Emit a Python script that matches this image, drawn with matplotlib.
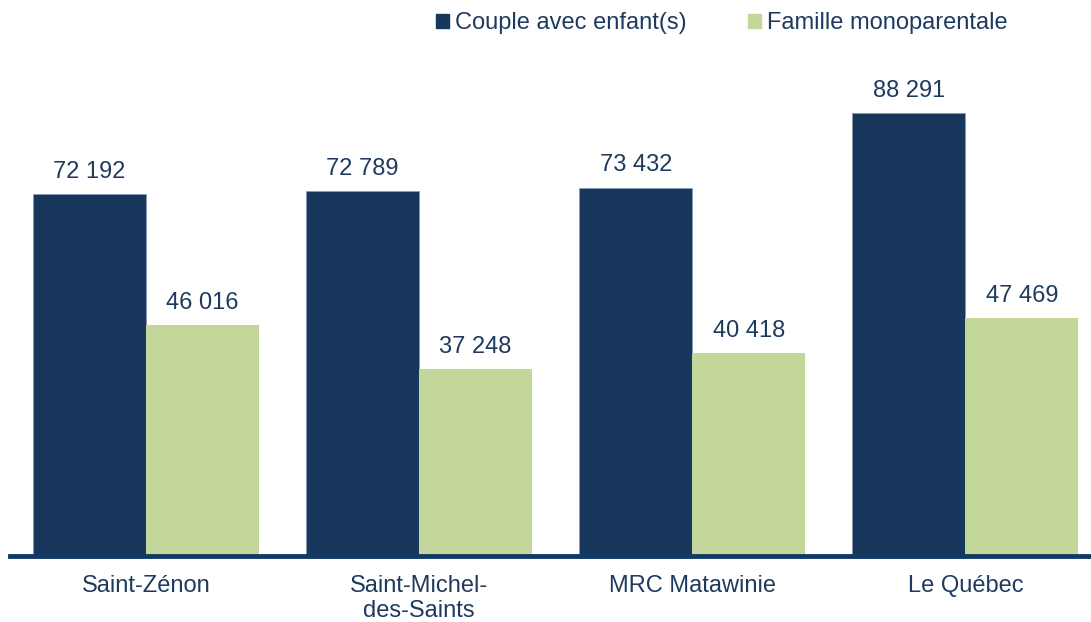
import numpy as np
import matplotlib.pyplot as plt
from matplotlib.patches import Patch

plt.rcParams['font.family'] = ['Liberation Sans', 'DejaVu Sans']

# Data
categories = ["Saint-Zénon", "Saint-Michel-\ndes-Saints", "MRC Matawinie", "Le Québec"]
couple = [72192, 72789, 73432, 88291]
monoparentale = [46016, 37248, 40418, 47469]
series_names = ["Couple avec enfant(s)", "Famille monoparentale"]

dark = "#18375d"
light = "#c4d79b"
text_col = "#1f3a5f"

fig = plt.figure(figsize=(10.91, 6.22), dpi=100)
ax = fig.add_axes([10 / 1091, 66 / 622, 1081 / 1091, 501.8 / 622])

x = np.arange(len(categories))
w = 0.414
b1 = ax.bar(x - w / 2, couple, w, color=dark, edgecolor="#8a9bb0", linewidth=0.4)
b2 = ax.bar(x + w / 2, monoparentale, w, color=light, edgecolor="none")

def fmt(v):
    return f"{v:,}".replace(",", " ")

for bars, vals in [(b1, couple), (b2, monoparentale)]:
    for rect, v in zip(bars, vals):
        ax.annotate(fmt(v), (rect.get_x() + rect.get_width() / 2, v),
                    xytext=(0, 16), textcoords="offset points",
                    ha="center", va="center", fontsize=17, color=text_col)

ax.set_xlim(-0.498, 3.46)
ax.set_ylim(0, 100000)
ax.set_yticks([])
ax.set_xticks(x)
ax.set_xticklabels(categories, fontsize=17, color=text_col, linespacing=1.15)
ax.tick_params(axis="x", length=0, pad=14)
for s in ["top", "right", "left"]:
    ax.spines[s].set_visible(False)
ax.spines["bottom"].set_color("#123a66")
ax.spines["bottom"].set_linewidth(3.5)

handles = [Patch(color=dark), Patch(color=light)]
fig.legend(handles, series_names, loc="center", bbox_to_anchor=(722 / 1091, 1 - 23 / 622),
           ncol=2, frameon=False, fontsize=17, handlelength=0.55, handleheight=0.55,
           handletextpad=0.25, columnspacing=2.6, labelcolor=text_col)

fig.savefig("out.png", dpi=100)
